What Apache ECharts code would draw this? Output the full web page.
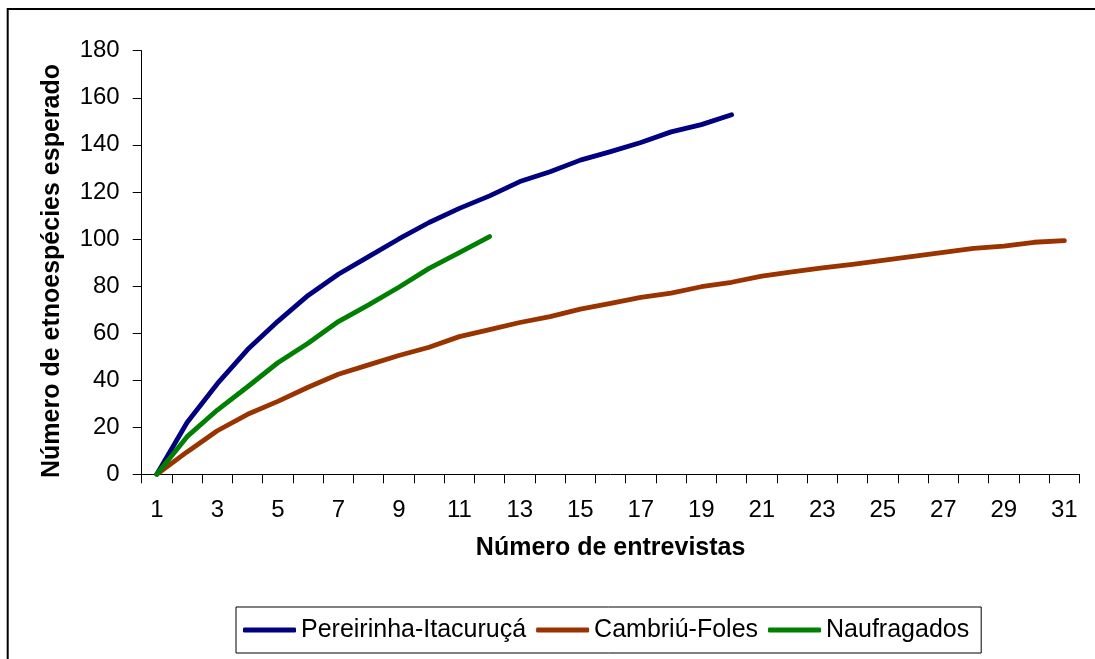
<!DOCTYPE html>
<html>
<head>
<meta charset="utf-8">
<script src="https://cdn.jsdelivr.net/npm/echarts@6/dist/echarts.min.js"></script>
<style>
  html, body { margin: 0; padding: 0; background: #fff; }
  #chart { width: 1095px; height: 659px; }
</style>
</head>
<body>
<div id="chart"></div>
<script>
const categories = ['1','2','3','4','5','6','7','8','9','10','11','12','13','14','15','16','17','18','19','20','21','22','23','24','25','26','27','28','29','30','31'];
const seriesNames = ['Pereirinha-Itacuruçá', 'Cambriú-Foles', 'Naufragados'];
const pereirinha = [0, 22, 38.5, 53, 65, 76, 85, 92.5, 100, 107, 113, 118.3, 124.4, 128.6, 133.5, 137.1, 141, 145.5, 148.6, 152.8];
const cambriu = [0, 9.5, 18.5, 25.5, 31, 37, 42.5, 46.5, 50.5, 54, 58.5, 61.5, 64.5, 67, 70.2, 72.6, 75.2, 77, 79.7, 81.6, 84.2, 86, 87.7, 89.2, 90.9, 92.6, 94.3, 96, 97, 98.6, 99.3];
const naufragados = [0, 16, 27.3, 37.2, 47.4, 55.7, 64.9, 72, 79.5, 87.5, 94.2, 101];
const yTicks = { min: 0, max: 180, interval: 20 };
const xTitle = 'Número de entrevistas';
const yTitle = 'Número de etnoespécies esperado';
const colors = ['#000080', '#993300', '#008000'];

const FONT = "'Liberation Sans', Arial, sans-serif";
const chart = echarts.init(document.getElementById('chart'), null, { renderer: 'canvas' });

function lineSeries(name, data, color) {
  return {
    name: name,
    type: 'line',
    data: data,
    symbol: 'none',
    smooth: false,
    lineStyle: { color: color, width: 4.8, cap: 'round', join: 'round' },
    itemStyle: { color: color },
    emphasis: { disabled: true }
  };
}

chart.setOption({
  animation: false,
  backgroundColor: '#fff',
  textStyle: { fontFamily: FONT },
  graphic: [{
    type: 'rect',
    z: -10,
    shape: { x: 7.7, y: 9, width: 1100, height: 700 },
    style: { fill: 'none', stroke: '#000', lineWidth: 2 }
  }],
  grid: { left: 141.7, right: 15.5, top: 50.7, bottom: 184.7, containLabel: false },
  legend: {
    left: 236,
    top: 607,
    orient: 'horizontal',
    padding: [10.5, 12, 10.5, 7],
    itemGap: 10,
    itemWidth: 53,
    itemHeight: 5,
    icon: 'roundRect',
    borderColor: '#000',
    borderWidth: 1,
    borderRadius: 0,
    backgroundColor: '#fff',
    selectedMode: false,
    textStyle: { fontFamily: FONT, fontSize: 25, color: '#000' },
    data: seriesNames
  },
  xAxis: {
    type: 'category',
    data: categories,
    boundaryGap: true,
    name: xTitle,
    nameLocation: 'middle',
    nameGap: 61,
    nameTextStyle: { fontFamily: FONT, fontSize: 25, fontWeight: 'bold', color: '#000' },
    axisLine: { show: true, lineStyle: { color: '#000', width: 1 } },
    axisTick: { show: true, interval: 0, length: 9, alignWithLabel: false, lineStyle: { color: '#000' } },
    axisLabel: { interval: 1, margin: 24, fontFamily: FONT, fontSize: 24, color: '#000' },
    splitLine: { show: false }
  },
  yAxis: {
    type: 'value',
    min: yTicks.min,
    max: yTicks.max,
    interval: yTicks.interval,
    name: yTitle,
    nameLocation: 'middle',
    nameGap: 77,
    nameRotate: 90,
    nameTextStyle: { fontFamily: FONT, fontSize: 25, fontWeight: 'bold', color: '#000', padding: [0, 17, 0, 0] },
    axisLine: { show: true, lineStyle: { color: '#000', width: 1 } },
    axisTick: { show: true, length: 9, lineStyle: { color: '#000' } },
    axisLabel: { margin: 22, fontFamily: FONT, fontSize: 24, color: '#000' },
    splitLine: { show: false }
  },
  series: [
    lineSeries(seriesNames[0], pereirinha, colors[0]),
    lineSeries(seriesNames[1], cambriu, colors[1]),
    lineSeries(seriesNames[2], naufragados, colors[2])
  ]
});
</script>
</body>
</html>
